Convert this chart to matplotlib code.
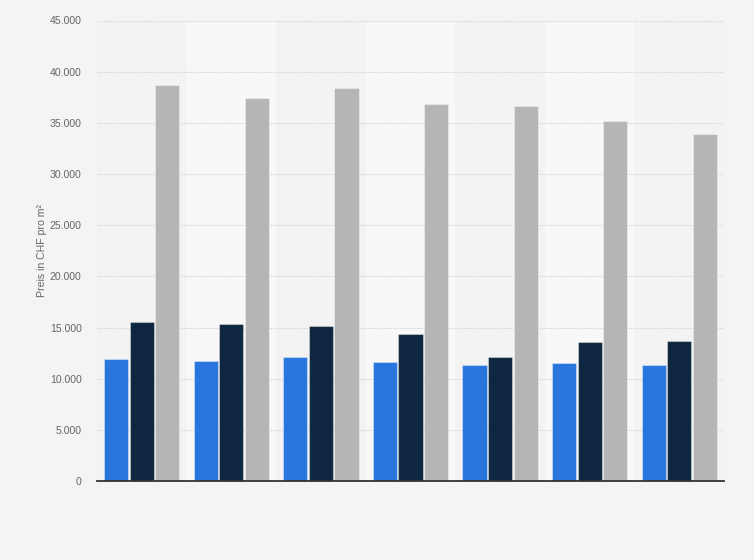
import matplotlib
matplotlib.use("Agg")
import matplotlib.pyplot as plt
from matplotlib.ticker import FuncFormatter, MultipleLocator
import numpy as np

plt.rcParams["font.family"] = ["Liberation Sans", "DejaVu Sans"]

groups = ["1", "2", "3", "4", "5", "6", "7"]
series_blue = [11880, 11680, 12070, 11590, 11350, 11490, 11350]
series_dark = [15490, 15390, 15100, 14320, 12070, 13540, 13640]
series_gray = [38720, 37450, 38430, 36840, 36610, 35150, 33880]
colors = ["#2876dd", "#0f2640", "#b5b5b5"]
ylabel = "Preis in CHF pro m²"

fig = plt.figure(figsize=(7.54, 5.6), dpi=100, facecolor="#f4f4f4")
ax = fig.add_axes([97/754, 79/560, 627/754, 460.5/560])
ax.set_facecolor("#f3f3f3")

x = np.arange(len(groups))
ax.set_xlim(-0.5, len(groups) - 0.5)
ax.set_ylim(0, 45000)

for i in range(len(groups)):
    if i % 2 == 1:
        ax.axvspan(i - 0.5, i + 0.5, color="#f8f8f8", zorder=0, lw=0)

w = 0.27
step = 0.285
for k, (vals, c) in enumerate(zip([series_blue, series_dark, series_gray], colors)):
    ax.bar(x + (k - 1) * step, vals, width=w, color=c, zorder=3,
           edgecolor=(1, 1, 1, 0.35), linewidth=0.8)

ax.yaxis.set_major_locator(MultipleLocator(5000))
ax.yaxis.set_major_formatter(FuncFormatter(lambda v, p: f"{int(v):,}".replace(",", ".")))
ax.grid(axis="y", color="#d2d2d2", linestyle=(0, (1, 1)), linewidth=0.8, zorder=1)
ax.set_axisbelow(True)
ax.set_xticks([])
for s in ["top", "right", "left"]:
    ax.spines[s].set_visible(False)
ax.spines["bottom"].set_color("#333333")
ax.spines["bottom"].set_linewidth(1.3)
ax.spines["bottom"].set_zorder(5)
ax.tick_params(axis="y", length=0, labelsize=7.6, labelcolor="#666666", pad=11)
ax.set_ylabel(ylabel, fontsize=7.6, color="#666666", labelpad=2)

fig.savefig("out.png", dpi=100, facecolor=fig.get_facecolor())
